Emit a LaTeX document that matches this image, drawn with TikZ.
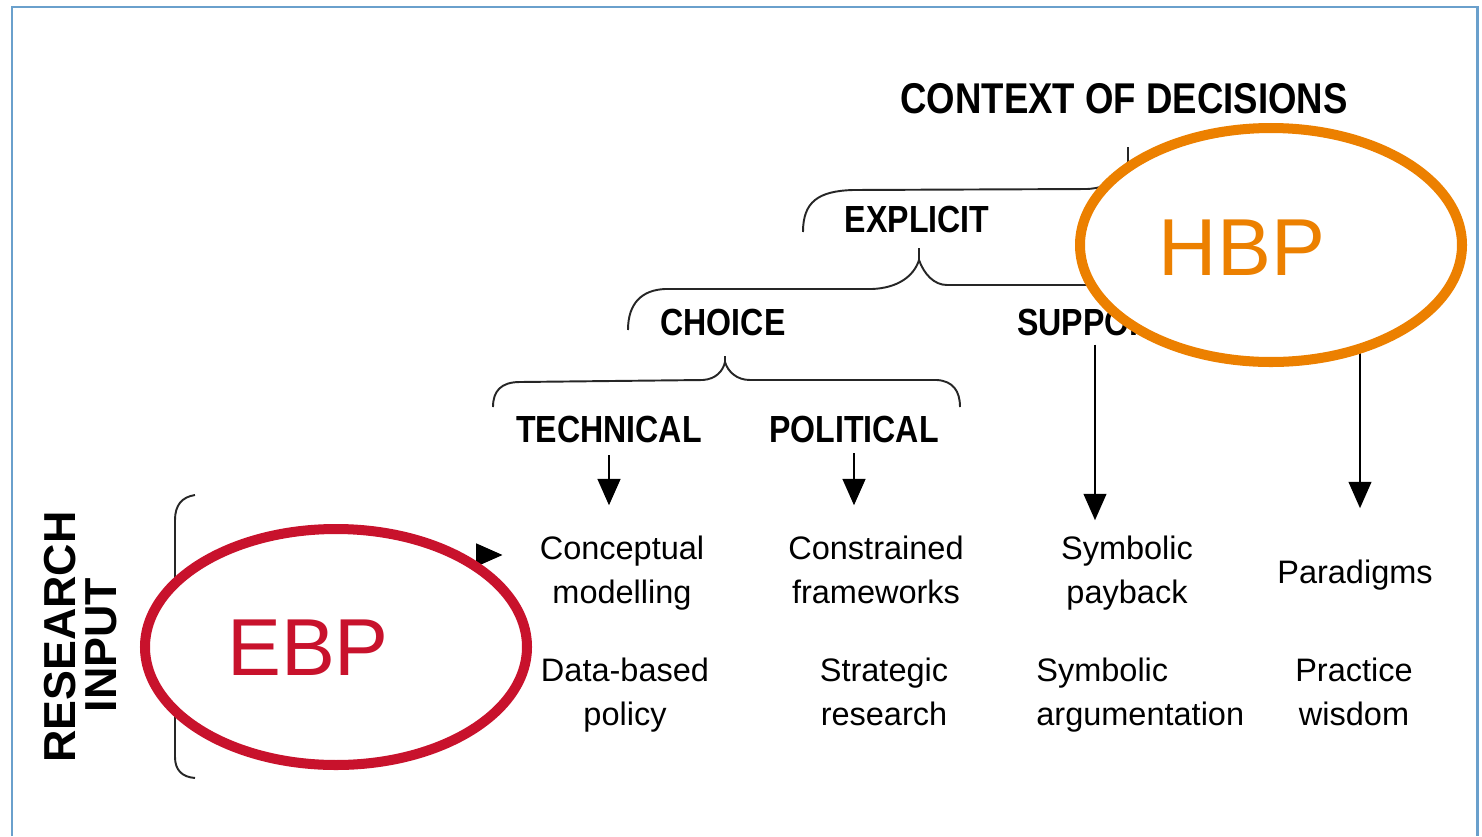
\documentclass[tikz,border=0pt]{standalone}
\usepackage{fontspec}
\setmainfont{Liberation Sans}
\usetikzlibrary{arrows.meta}
\pgfkeys{/pixels/.code=\tikzset{x={(0.02cm,0cm)},y={(0cm,-0.02cm)}}}
\definecolor{framebl}{RGB}{106,160,204}
\definecolor{ebpred}{RGB}{200,18,44}
\definecolor{hbporange}{RGB}{236,128,0}
\newcommand{\hdr}[1]{\scalebox{.85}[1]{\bfseries #1}}
\tikzset{
  head/.style={inner sep=0,font=\fontsize{21.5}{26}\selectfont},
  item/.style={inner sep=0,anchor=north,align=center,font=\fontsize{18.5}{25}\selectfont},
  brace/.style={line width=1.1pt,line join=round,black!85},
  arr/.style={line width=1.1pt,-{Triangle[width=13pt,length=15pt]}},
  ring/.style={line width=5.7pt,draw=#1,fill=white},
  tag/.style={inner sep=0,font=\fontsize{46}{46}\selectfont},
  side/.style={rotate=90,inner sep=0,font=\fontsize{25.5}{25.5}\selectfont\bfseries}
}

\begin{document}
\begin{tikzpicture}[/pixels]
\useasboundingbox (0,0) rectangle (1482,836);
\draw[framebl,line width=1.7pt] (12,836) -- (12,7) -- (1477,7) -- (1477,836);

\draw[brace] (803,232) .. controls (803,202) and (818,191) .. (853,190) -- (1087,189) .. controls (1108,188) and (1124,178) .. (1128,162) -- (1128,147);
\draw[brace] (1128,162) .. controls (1132,178) and (1148,188) .. (1169,189) -- (1300,190);
\draw[brace] (628,330) .. controls (628,303) and (642,290) .. (665,289) -- (872,289) .. controls (898,288) and (914,276) .. (919,260) -- (919,248);
\draw[brace] (919,260) .. controls (924,274) and (934,285) .. (947,285) -- (1200,285);
\draw[brace] (493,407) .. controls (493,391) and (501,382) .. (520,382) -- (703,380) .. controls (716,379) and (723,371) .. (725,362) -- (725,356);
\draw[brace] (725,362) .. controls (728,372) and (737,380) .. (750,380) -- (937,380) .. controls (953,381) and (960,391) .. (960,407);
\draw[brace] (195,495) .. controls (182,497) and (175,505) .. (175,520) -- (175,628) .. controls (175,635) and (170,638) .. (165,639) .. controls (170,640) and (175,643) .. (175,650) -- (175,757) .. controls (175,770) and (182,777) .. (195,778);

\node[head,font=\fontsize{24.5}{28}\selectfont] (context) at (1124,99) {\hdr{CONTEXT OF DECISIONS}};
\node[head] (explicit) at (917,219) {\hdr{EXPLICIT}};
\node[head] (choice) at (723,322) {\hdr{CHOICE}};
\node[head] (support) at (1095,322) {\hdr{SUPPORT}};
\node[head] (technical) at (609,429) {\hdr{TECHNICAL}};
\node[head] (political) at (854,429) {\hdr{POLITICAL}};

\node[side] (research) at (60,637) {RESEARCH};
\node[side] (input) at (101,645) {INPUT};

\node[item] (concept) at (622,536) {Conceptual\\modelling};
\node[item] (constrained) at (876,536) {Constrained\\frameworks};
\node[item] (payback) at (1127,536) {Symbolic\\payback};
\node[item] (paradigm) at (1355,560) {Paradigms};
\node[item] (databased) at (625,658) {Data-based\\policy};
\node[item] (strategic) at (884,658) {Strategic\\research};
\node[item,anchor=north west,align=left] (argument) at (1036,658) {Symbolic\\argumentation};
\node[item] (wisdom) at (1354,658) {Practice\\wisdom};

\coordinate (inflow) at (476,555);
\coordinate (beyond) at (1360,300);
\draw[arr,shorten <=7pt,shorten >=17.5pt] (technical.south) -- (technical.south |- concept.north);
\draw[arr,shorten <=6pt,shorten >=17.5pt] (political.south) -- (political.south |- constrained.north);
\draw[arr,line width=0.9pt,shorten <=5pt,shorten >=9pt] (support.south) -- (support.south |- payback.north);
\draw[arr,line width=0.9pt,shorten >=29.5pt] (beyond) -- (beyond |- paradigm.north);
\draw[arr,shorten >=21pt] (inflow) -- (inflow -| concept.west);

\draw[ring=ebpred] (336,647) ellipse [x radius=191, y radius=118];
\node[tag,text=ebpred] (ebp) at (308,648) {EBP};
\draw[ring=hbporange] (1271,245) ellipse [x radius=191, y radius=117];
\node[tag,text=hbporange] (hbp) at (1242,248) {HBP};
\end{tikzpicture}
\end{document}
